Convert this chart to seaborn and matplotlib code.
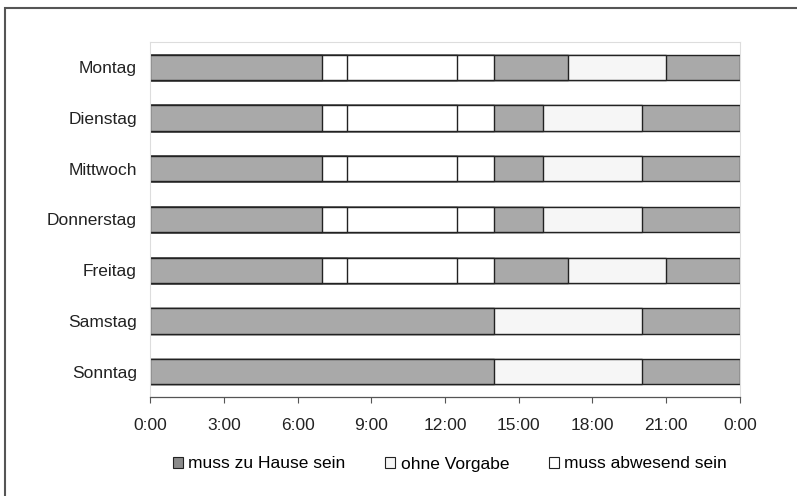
import matplotlib
matplotlib.use("Agg")
import matplotlib.pyplot as plt
import matplotlib.patches as mpatches
import seaborn as sns
import pandas as pd

# ---- data ----
days = ["Montag", "Dienstag", "Mittwoch", "Donnerstag", "Freitag", "Samstag", "Sonntag"]
categories = ["muss zu Hause sein", "ohne Vorgabe", "muss abwesend sein"]

# segment end times (hours) and category per segment
ends_montag = [7, 8, 12.5, 14, 17, 21, 24]
ends_dienstag = [7, 8, 12.5, 14, 16, 20, 24]
ends_mittwoch = [7, 8, 12.5, 14, 16, 20, 24]
ends_donnerstag = [7, 8, 12.5, 14, 16, 20, 24]
ends_freitag = [7, 8, 12.5, 14, 17, 21, 24]
ends_samstag = [14, 20, 24]
ends_sonntag = [14, 20, 24]

cats_weekday = ["muss zu Hause sein", "muss abwesend sein", "muss abwesend sein",
                "muss abwesend sein", "muss zu Hause sein", "ohne Vorgabe", "muss zu Hause sein"]
cats_weekend = ["muss zu Hause sein", "ohne Vorgabe", "muss zu Hause sein"]

tick_hours = [0, 3, 6, 9, 12, 15, 18, 21, 24]
tick_labels = ["0:00", "3:00", "6:00", "9:00", "12:00", "15:00", "18:00", "21:00", "0:00"]

all_ends = [ends_montag, ends_dienstag, ends_mittwoch, ends_donnerstag,
            ends_freitag, ends_samstag, ends_sonntag]
all_cats = [cats_weekday] * 5 + [cats_weekend] * 2

rows = []
for d, e, c in zip(days, all_ends, all_cats):
    for i, (end, cat) in enumerate(zip(e, c)):
        rows.append({"Tag": d, "idx": i, "Ende": end, "Kategorie": cat})
df = pd.DataFrame(rows)

palette = {"muss zu Hause sein": "#a9a9a9",
           "ohne Vorgabe": "#f6f6f6",
           "muss abwesend sein": "#ffffff"}

plt.rcParams["font.family"] = ["Liberation Sans", "DejaVu Sans"]
fig = plt.figure(figsize=(7.97, 4.96), dpi=100)
ax = fig.add_axes([150/797, 1 - 397/496, 590/797, 355/496])

for i in sorted(df["idx"].unique(), reverse=True):
    sub = df[df["idx"] == i]
    sns.barplot(data=sub, x="Ende", y="Tag", hue="Kategorie", order=days,
                hue_order=categories, palette=palette, orient="h",
                dodge=False, saturation=1, width=0.5, edgecolor="#222222",
                linewidth=1.0, legend=False, ax=ax)

ax.set_xlim(0, 24)
ax.set_ylim(6.5, -0.5)
ax.set_xticks(tick_hours)
ax.set_xticklabels(tick_labels, fontsize=12.5, color="#222222")
ax.tick_params(axis="x", direction="out", length=4, pad=11, color="#555555")
ax.tick_params(axis="y", length=0, pad=9.5, labelsize=12.5, labelcolor="#222222")
ax.set_xlabel("")
ax.set_ylabel("")
for s in ["top", "right", "left"]:
    ax.spines[s].set_color("#dddddd")
    ax.spines[s].set_linewidth(0.8)
ax.spines["bottom"].set_color("#555555")
ax.spines["bottom"].set_linewidth(0.9)

handles = [mpatches.Patch(facecolor=palette[c] if c != "muss zu Hause sein" else "#8a8a8a",
                          edgecolor="#222222", linewidth=0.8, label=c) for c in categories]
fig.legend(handles=handles, loc="center", bbox_to_anchor=(450/797, 1 - 464/496),
           ncol=3, frameon=False, fontsize=12.5, handlelength=0.57, handleheight=0.57,
           handletextpad=0.3, columnspacing=2.3, borderpad=0)

# outer frame
fig.add_artist(mpatches.Rectangle((5/797, -0.05), 1.0, 1 - 8/496 + 0.05,
                                  transform=fig.transFigure, fill=False,
                                  edgecolor="#555555", linewidth=1.5))

fig.savefig("out.png", dpi=100)
